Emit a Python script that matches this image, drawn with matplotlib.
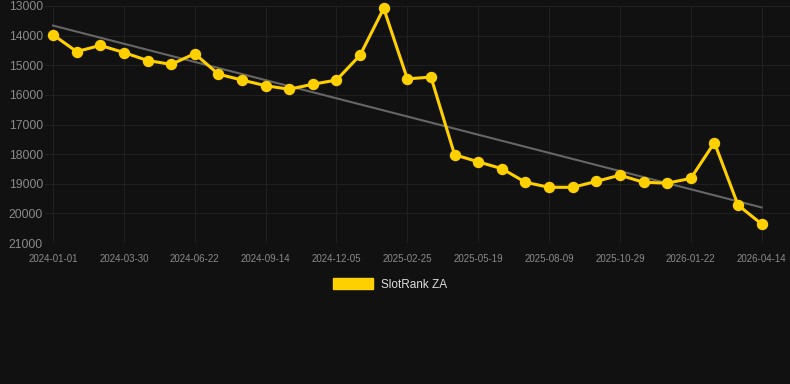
import numpy as np
import matplotlib
matplotlib.use('Agg')
import matplotlib.pyplot as plt
from matplotlib.patches import Patch

plt.rcParams['font.family'] = ['Liberation Sans', 'DejaVu Sans']

# tick labels (every 3rd point carries a date label)
tick_labels = ['2024-01-01', '2024-03-30', '2024-06-22', '2024-09-14', '2024-12-05',
               '2025-02-25', '2025-05-19', '2025-08-09', '2025-10-29', '2026-01-22',
               '2026-04-14']
# rank values, one per point (31 points)
rank = [13970, 14540, 14330, 14570, 14840, 14970, 14610, 15300, 15500, 15690,
        15810, 15640, 15500, 14660, 13080, 15460, 15400, 18020, 18260, 18490,
        18950, 19120, 19120, 18920, 18710, 18950, 18980, 18820, 17610, 19720,
        20360]
# trend line end values
trend_start = 13660
trend_end = 19800

bg = '#111111'
yellow = '#FFD000'

fig = plt.figure(figsize=(7.9, 3.84), dpi=100, facecolor=bg)
ax = fig.add_axes([45/790, 1-243/384, 1-45/790, 237/384])
ax.set_facecolor(bg)

x = np.arange(len(rank))
ax.plot([x[0], x[-1]], [trend_start, trend_end], color='#666666', lw=1.5, zorder=2)
ax.plot(x, rank, color=yellow, lw=2.2, marker='o', ms=7.2, zorder=3, clip_on=False)

ax.set_ylim(21000, 13000)
ax.set_xlim(-0.34, 31.2)
ax.set_yticks(np.arange(13000, 21001, 1000))
ax.set_xticks(x[::3])
ax.set_xticklabels(tick_labels)
ax.tick_params(axis='y', colors='#8a8a8a', labelsize=8.7, length=0, pad=1.5)
ax.tick_params(axis='x', colors='#8a8a8a', labelsize=7, length=0, pad=8)
ax.grid(True, color='#202020', lw=0.8)
for s in ax.spines.values():
    s.set_visible(False)
ax.axhline(21000, color='#2a2a2a', lw=0.8)

fig.legend(handles=[Patch(facecolor=yellow, edgecolor=yellow, label='SlotRank ZA')],
           loc='center', bbox_to_anchor=(390/790, 1-284.5/384), frameon=False,
           labelcolor='#dddddd', fontsize=8.5, handlelength=3.4, handleheight=1.0,
           handletextpad=0.6)

fig.savefig('out.png', dpi=100, facecolor=bg)
